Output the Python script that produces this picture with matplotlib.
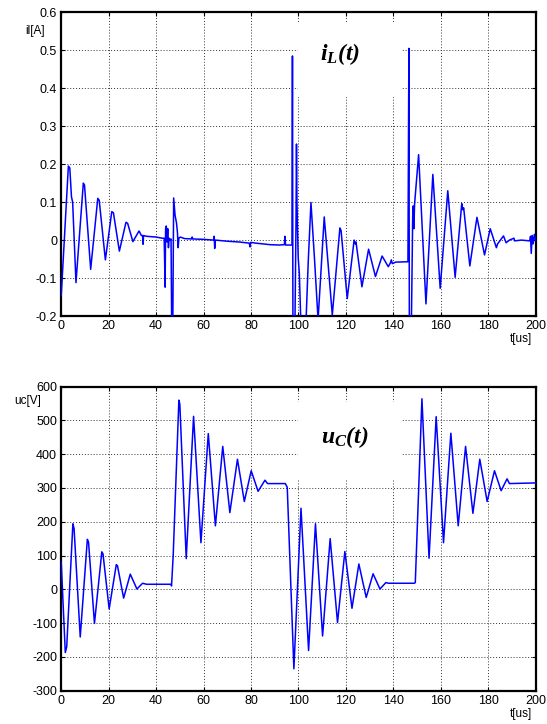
import matplotlib
matplotlib.use("Agg")
import matplotlib.pyplot as plt
from matplotlib.patches import Rectangle

plt.rcParams['font.family'] = ['Liberation Sans', 'DejaVu Sans']
plt.rcParams['axes.unicode_minus'] = False
plt.rcParams['mathtext.fontset'] = 'custom'
plt.rcParams['mathtext.rm'] = 'Liberation Serif:bold:italic'
plt.rcParams['mathtext.it'] = 'Liberation Serif:bold:italic'
plt.rcParams['mathtext.bf'] = 'Liberation Serif:bold:italic'

# ---------------- data: inductor current iL(t) ----------------
t_il = [0, 3.0, 3.6, 4.3, 4.8, 6.2, 9.3, 9.8, 12.4, 15.4, 16.0, 18.6, 21.3, 22.0,
        24.5, 27.3, 28.0, 30.2, 32.8, 33.8, 34.3, 34.5, 34.7, 36, 40, 42.5,
        43.4, 43.8, 44.0, 44.3, 44.6, 44.9, 45.2, 45.5, 45.9, 46.3, 46.6, 47.0,
        47.4, 48.0, 48.6, 49.0, 49.3, 49.6, 50.2, 52, 55.0, 55.2, 55.5, 60,
        64.2, 64.5, 64.7, 65.0, 70, 75, 79.3, 79.6, 79.9, 82, 85, 88, 92, 94.1,
        94.3, 94.6, 97.3, 97.5, 97.7, 98.5, 99.0, 99.2, 99.4, 99.9, 100.4,
        101.2, 103.0, 104.2, 105.3, 106.8, 108.3, 110.9, 114.3, 117.5, 118.0,
        120.6, 123.5, 124.0, 124.3, 126.8, 129.6, 132.5, 135.3, 137.9, 138.8,
        139.2, 139.6, 141, 145.6, 146.2, 146.6, 146.8, 147.6, 148.2, 148.4,
        148.7, 149.0, 150.7, 153.8, 156.7, 159.8, 163.0, 166.1, 168.9, 169.3,
        169.7, 172.3, 175.3, 178.5, 180.9, 183.5, 184.0, 186.5, 187.6, 189,
        190.9, 191.2, 194, 197.6, 197.9, 198.2, 198.6, 199.0, 199.5, 200]
il = [-0.145, 0.195, 0.19, 0.114, 0.10, -0.112, 0.150, 0.145, -0.077, 0.110,
      0.105, -0.052, 0.075, 0.072, -0.029, 0.047, 0.044, -0.004, 0.024, 0.012,
      0.012, -0.011, 0.012, 0.010, 0.008, 0.005,
      0.005, -0.124, 0.03, 0.037, -0.005, 0.03, -0.02, 0.005, 0.0, 0.003, -0.25,
      -0.25, 0.111, 0.065, 0.045, 0.02, -0.02, 0.005, 0.008, 0.004, 0.003,
      0.008, 0.003, 0.002, 0.0, 0.01, -0.022, 0.0, -0.003, -0.005, -0.008,
      -0.018, -0.006, -0.008, -0.01, -0.012, -0.013, -0.012, 0.01, -0.013,
      -0.013, 0.485, -0.25, -0.25, 0.05, 0.253, 0.1, -0.044, -0.088, -0.25,
      -0.25, -0.05, 0.099, -0.05, -0.21, 0.061, -0.197, 0.032, 0.025, -0.154,
      0.0, -0.01, -0.005, -0.123, -0.024, -0.096, -0.042, -0.07, -0.06, -0.052,
      -0.062, -0.058, -0.057, -0.057, 0.505, -0.25, -0.25, 0.06, 0.09, 0.03,
      0.095, 0.225, -0.168, 0.173, -0.127, 0.130, -0.098, 0.096, 0.08, 0.085,
      -0.068, 0.06, -0.039, 0.03, -0.02, -0.01, 0.011, -0.007, 0.0, 0.005,
      -0.002, 0.0, -0.002, 0.01, -0.035, 0.012, -0.01, 0.015, 0.0]

# ---------------- data: capacitor voltage uC(t) ----------------
t_uc = [0, 0.5, 1.7, 2.3, 4.9, 5.4, 8.0, 11.0, 11.5, 14.0, 17.1, 17.6, 20.2,
        23.2, 23.7, 26.3, 29.1, 31.9, 34.3, 36, 46.3, 46.5, 47.2, 49.6, 50.0,
        52.7, 55.8, 58.9, 62.0, 65.0, 68.1, 71.1, 74.3, 77.2, 80.1, 83.0, 85.9,
        87.0, 94.5, 95.3, 98.1, 101.1, 104.3, 107.2, 110.2, 113.4, 116.5, 119.6,
        122.6, 125.5, 128.6, 131.5, 134.4, 136.9, 138, 148.9, 149.3, 152.1,
        155.1, 158.1, 161.2, 164.3, 167.4, 170.5, 173.6, 176.5, 179.6, 182.7,
        185.5, 188.0, 189.0, 200]
uc = [80, 0, -187, -170, 194, 180, -141, 148, 140, -101, 111, 105, -58, 73, 70,
      -26, 45, 1, 18, 15, 15, 10, 100, 560, 548, 91, 512, 138, 461, 188, 423,
      227, 385, 260, 351, 290, 323, 313, 313, 302, -235, 240, -181, 194, -138,
      150, -98, 112, -56, 75, -24, 46, 1, 20, 18, 18, 20, 564, 92, 511, 138,
      462, 188, 423, 225, 385, 260, 351, 292, 327, 313, 315]

x_ticks = list(range(0, 201, 20))
il_ticks = [-0.2, -0.1, 0, 0.1, 0.2, 0.3, 0.4, 0.5, 0.6]
il_labels = ["-0.2", "-0.1", "0", "0.1", "0.2", "0.3", "0.4", "0.5", "0.6"]
uc_ticks = list(range(-300, 601, 100))
uc_labels = [str(v) for v in uc_ticks]

fig = plt.figure(figsize=(5.47, 7.24), dpi=100)
ax1 = fig.add_axes([0.112, 0.5635, 0.867, 0.4195])
ax2 = fig.add_axes([0.112, 0.046, 0.867, 0.42])

def style(ax, yticks, ylabels, ylim):
    ax.set_xlim(0, 200)
    ax.set_ylim(*ylim)
    ax.set_xticks(x_ticks)
    ax.set_xticklabels([str(v) for v in x_ticks])
    ax.set_yticks(yticks)
    ax.set_yticklabels(ylabels)
    ax.set_axisbelow(True)
    ax.grid(True, color='0.2', linestyle=(0, (1, 2)), linewidth=0.7)
    ax.tick_params(direction='in', length=3, width=0.8, top=True, right=True,
                   labelsize=9, pad=3, colors='black')
    for s in ax.spines.values():
        s.set_linewidth(1.6)
        s.set_color('black')

style(ax1, il_ticks, il_labels, (-0.2, 0.6))
style(ax2, uc_ticks, uc_labels, (-300, 600))

ax1.plot(t_il, il, color='#0000FF', lw=1.1, zorder=3)
ax2.plot(t_uc, uc, color='#0000FF', lw=1.1, zorder=3)

# white boxes behind the curve labels
ax1.add_patch(Rectangle((0.499, 0.721), 0.219, 0.244, transform=ax1.transAxes,
                        facecolor='white', edgecolor='none', zorder=1.5))
ax2.add_patch(Rectangle((0.499, 0.693), 0.219, 0.258, transform=ax2.transAxes,
                        facecolor='white', edgecolor='none', zorder=1.5))
ax1.text(0.587, 0.863, r'$i_L(t)$', transform=ax1.transAxes, fontsize=17,
         ha='center', va='center', zorder=4)
ax2.text(0.598, 0.835, r'$u_C(t)$', transform=ax2.transAxes, fontsize=17,
         ha='center', va='center', zorder=4)

ax1.text(-0.034, 0.938, 'il[A]', transform=ax1.transAxes, fontsize=8.5,
         ha='right', va='center')
ax2.text(-0.043, 0.953, 'uc[V]', transform=ax2.transAxes, fontsize=8.5,
         ha='right', va='center')
ax1.text(0.992, -0.076, 't[us]', transform=ax1.transAxes, fontsize=8.5,
         ha='right', va='center')
ax2.text(0.992, -0.077, 't[us]', transform=ax2.transAxes, fontsize=8.5,
         ha='right', va='center')

fig.savefig('out.png', dpi=100)
